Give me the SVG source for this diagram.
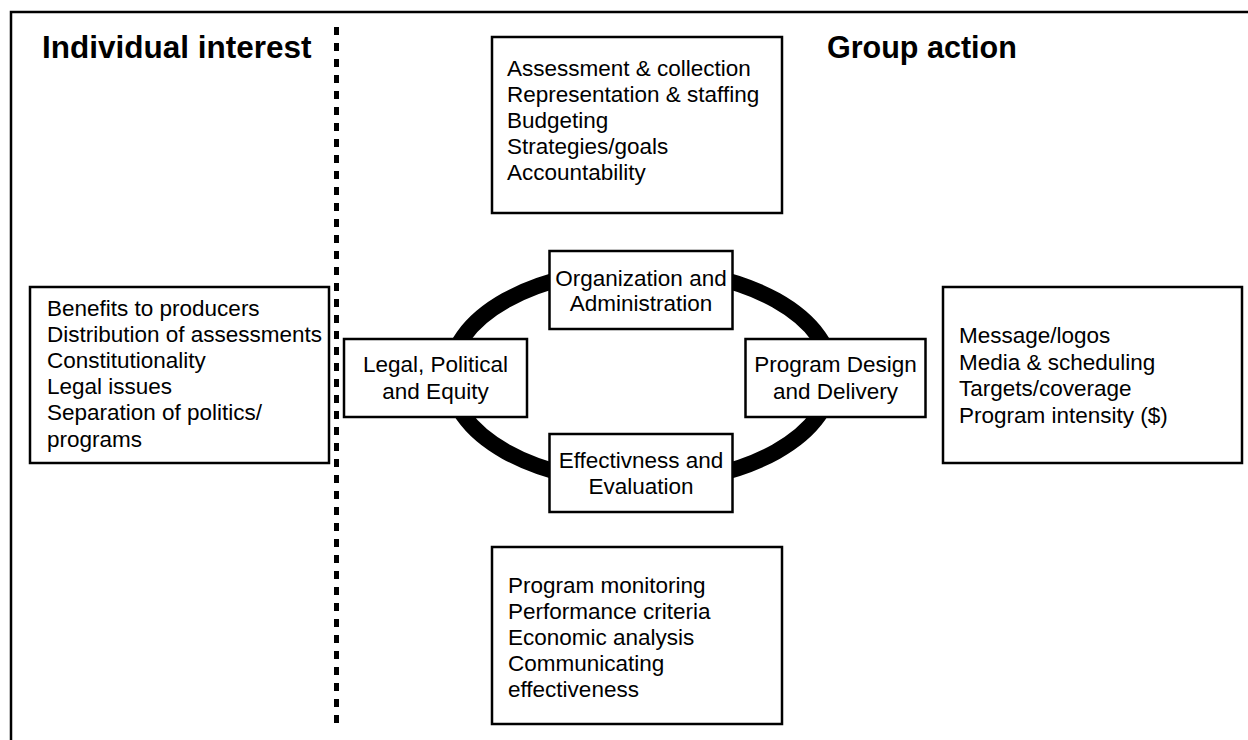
<svg xmlns="http://www.w3.org/2000/svg" width="1248" height="740" viewBox="0 0 1248 740">
<style>
.box{fill:#fff;stroke:#000;stroke-width:2.5}
.t{font-family:"Liberation Sans",Arial,sans-serif;font-size:22.5px;fill:#000}
.c{text-anchor:middle}
.h{font-family:"Liberation Sans",Arial,sans-serif;font-weight:bold;fill:#000}
</style>
<rect width="1248" height="740" fill="#fff"/>
<path d="M11,740 V12 H1248" fill="none" stroke="#000" stroke-width="2.5"/>
<line x1="336.5" y1="27" x2="336.5" y2="724" stroke="#000" stroke-width="5" stroke-dasharray="8 8"/>
<text class="h" x="42" y="58" font-size="31.5">Individual interest</text>
<text class="h" x="827" y="58" font-size="30.5">Group action</text>
<g id="connectors">
<ellipse cx="641" cy="376" rx="191" ry="107" fill="none" stroke="#000" stroke-width="16"/>
</g>
<g id="top-list">
<rect class="box" x="492" y="37" width="290" height="176"/>
<text class="t" x="507" y="75.5">Assessment &amp; collection</text>
<text class="t" x="507" y="101.7">Representation &amp; staffing</text>
<text class="t" x="507" y="127.9">Budgeting</text>
<text class="t" x="507" y="154.1">Strategies/goals</text>
<text class="t" x="507" y="180.3">Accountability</text>
</g>
<g id="left-list">
<rect class="box" x="30" y="287" width="299" height="176"/>
<text class="t" x="47" y="316">Benefits to producers</text>
<text class="t" x="47" y="342">Distribution of assessments</text>
<text class="t" x="47" y="368">Constitutionality</text>
<text class="t" x="47" y="394">Legal issues</text>
<text class="t" x="47" y="420">Separation of politics/</text>
<text class="t" x="47" y="446.5">programs</text>
</g>
<g id="right-list">
<rect class="box" x="943" y="287" width="299" height="176"/>
<text class="t" x="959" y="343">Message/logos</text>
<text class="t" x="959" y="369.5">Media &amp; scheduling</text>
<text class="t" x="959" y="396">Targets/coverage</text>
<text class="t" x="959" y="422.5">Program intensity ($)</text>
</g>
<g id="bottom-list">
<rect class="box" x="492" y="547" width="290" height="177"/>
<text class="t" x="508" y="593">Program monitoring</text>
<text class="t" x="508" y="619">Performance criteria</text>
<text class="t" x="508" y="645">Economic analysis</text>
<text class="t" x="508" y="671">Communicating</text>
<text class="t" x="508" y="696.5">effectiveness</text>
</g>
<g id="org">
<rect class="box" x="549.5" y="251" width="183" height="78"/>
<text class="t c" x="641" y="285.5">Organization and</text>
<text class="t c" x="641" y="311">Administration</text>
</g>
<g id="legal">
<rect class="box" x="344" y="339" width="183" height="78"/>
<text class="t c" x="435.5" y="372">Legal, Political</text>
<text class="t c" x="435.5" y="398.5">and Equity</text>
</g>
<g id="program">
<rect class="box" x="745.5" y="339" width="180" height="78"/>
<text class="t c" x="835.5" y="372">Program Design</text>
<text class="t c" x="835.5" y="398.5">and Delivery</text>
</g>
<g id="eff">
<rect class="box" x="549.5" y="434" width="183" height="78"/>
<text class="t c" x="641" y="468">Effectivness and</text>
<text class="t c" x="641" y="493.5">Evaluation</text>
</g>
</svg>
